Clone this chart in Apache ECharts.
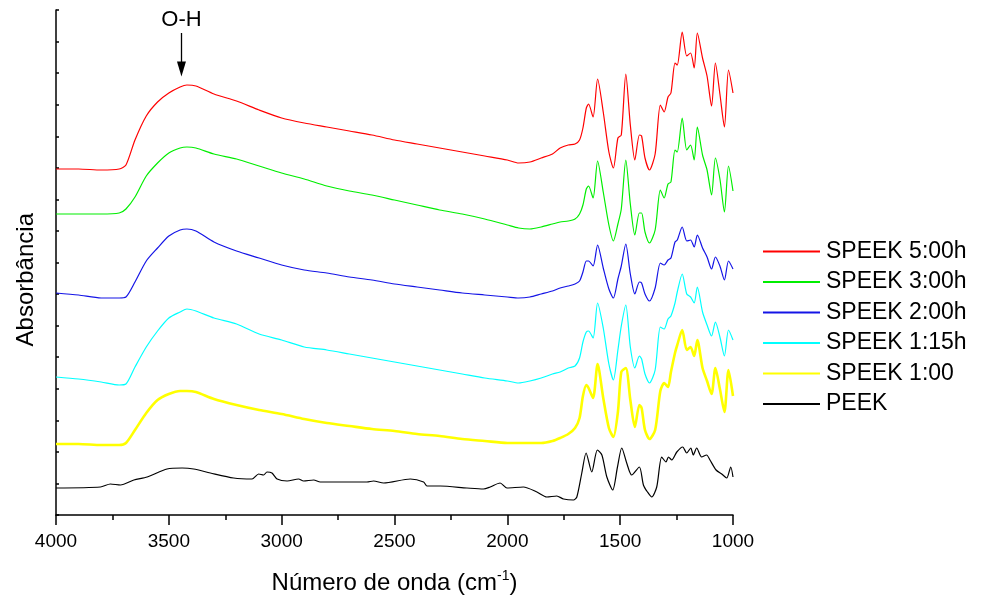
<!DOCTYPE html>
<html>
<head>
<meta charset="utf-8">
<script src="https://cdn.jsdelivr.net/npm/echarts@6/dist/echarts.min.js"></script>
<style>
  html, body { margin: 0; padding: 0; background: #fff; }
  #chart { width: 984px; height: 603px; }
</style>
</head>
<body>
<div id="chart"></div>
<script>
// wavenumbers (cm-1) shared by the SPEEK spectra
const wnSpeek = [4000,3900,3800,3720,3690,3650,3600,3550,3500,3450,3420,3380,3300,3200,3100,3000,2900,2800,2700,2600,2500,2400,2300,2200,2100,2000,1950,1900,1850,1800,1766,1730,1700,1680,1665,1650,1640,1620,1600,1575,1550,1530,1510,1495,1475,1455,1435,1415,1405,1390,1370,1345,1322,1305,1288,1275,1257,1247,1225,1205,1188,1172,1158,1135,1115,1095,1078,1058,1038,1020,1000];

// absorbance (arbitrary units, stacked offsets as in the figure)
const speek500 = [346,346,345,346,350,375,399,413,422,428,430,429,421,414,405,397,392,388,384,380,375,371,367,363,359,355,352,353,357,361,367,370,371,375,387,407,411,398,436,403,363,347,377,380,441,390,355,380,379,357,345,361,410,403,418,422,452,450,483,459,462,447,482,457,439,409,452,421,388,445,422];
const speek300 = [301,301,301,302,306,318,339,352,362,367,368,367,361,356,349,342,336,329,324,320,315,310,305,301,296,290,287,286,288,291,293,294,296,301,310,326,329,317,354,323,290,274,291,306,355,311,280,302,302,283,272,285,325,317,331,333,365,363,397,365,370,355,388,360,345,320,357,336,303,349,324];
const speek200 = [222,220,217,217,218,233,254,267,279,285,286,284,273,264,257,250,245,242,238,235,231,228,225,222,220,218,217,218,221,224,227,229,231,234,243,254,254,249,270,247,226,217,236,249,271,241,221,233,232,221,214,227,252,250,255,257,273,275,288,274,275,268,280,267,258,246,258,249,235,254,246];
const speek115 = [138,136,133,130,131,148,168,184,197,203,206,204,197,191,181,175,168,165,161,157,153,149,145,141,137,134,132,134,137,141,143,147,149,157,173,183,184,177,212,187,151,135,165,189,210,168,147,159,156,141,132,145,188,186,196,199,212,223,241,221,218,212,228,203,190,179,193,178,159,185,175];
const speek100 = [71,71,70,70,72,85,102,115,121,124,124,123,116,110,105,101,96,92,89,86,84,81,79,76,74,72,72,72,72,74,77,81,87,97,119,130,127,117,151,117,87,78,103,143,147,115,88,110,107,85,76,85,124,132,128,143,162,170,185,165,168,159,175,147,134,121,147,126,103,145,119];

// PEEK has its own sampling
const wnPeek = [4000,3803,3759,3714,3655,3596,3508,3441,3390,3316,3213,3131,3102,3080,3065,3043,3020,2976,2925,2903,2858,2829,2622,2593,2548,2430,2371,2356,2297,2179,2106,2076,2032,2002,1929,1869,1825,1781,1751,1707,1692,1670,1651,1626,1601,1581,1559,1533,1512,1493,1471,1449,1415,1397,1379,1360,1338,1316,1297,1286,1271,1249,1223,1205,1187,1176,1161,1139,1117,1102,1075,1050,1028,1010,1000];
const peek = [27,28,31,30,35,38,46,47,46,42,37,36,41,40,43,42,36,34,36,34,35,33,33,34,32,36,33,29,29,27,26,28,32,27,28,23,18,19,16,15,18,42,62,43,65,60,38,25,48,67,52,40,48,30,23,18,28,58,53,58,55,63,68,62,67,60,67,58,60,55,45,41,37,48,38];

const seriesNames = ['SPEEK 5:00h','SPEEK 3:00h','SPEEK 2:00h','SPEEK 1:15h','SPEEK 1:00','PEEK'];
const seriesColors = ['#ff0000','#00ee00','#1414e6','#00ffff','#ffff00','#000000'];

// O-H band marker
const ohWn = 3444;
const ohText = 'O-H';

const font = 'Liberation Sans, Arial, sans-serif';

function pairs(xs, ys) {
  return xs.map(function (x, i) { return [x, ys[i]]; });
}

const chart = echarts.init(document.getElementById('chart'));

const allData = [
  pairs(wnSpeek, speek500),
  pairs(wnSpeek, speek300),
  pairs(wnSpeek, speek200),
  pairs(wnSpeek, speek115),
  pairs(wnSpeek, speek100),
  pairs(wnPeek, peek)
];

const series = allData.map(function (d, i) {
  const s = {
    name: seriesNames[i],
    type: 'line',
    data: d,
    showSymbol: false,
    smooth: 0.25,
    lineStyle: { color: seriesColors[i], width: i === 4 ? 2.6 : 1.2 },
    itemStyle: { color: seriesColors[i] },
    z: 10 - i
  };
  if (i === 0) {
    s.markLine = {
      silent: true,
      symbol: ['none', 'triangle'],
      symbolSize: [9, 15],
      lineStyle: { color: '#000', width: 1.3, type: 'solid' },
      label: { show: false },
      data: [[{ coord: [ohWn, 482] }, { coord: [ohWn, 446] }]]
    };
    s.markPoint = {
      silent: true,
      symbol: 'circle',
      symbolSize: 0,
      label: {
        show: true, position: 'inside', formatter: ohText,
        color: '#000', fontSize: 22, fontFamily: font
      },
      data: [{ coord: [ohWn, 495] }]
    };
  }
  return s;
});

const option = {
  backgroundColor: '#fff',
  animation: false,
  textStyle: { fontFamily: font },
  grid: { left: 56, right: 251, top: 10, bottom: 88, containLabel: false, outerBoundsMode: 'none' },
  legend: {
    orient: 'vertical',
    left: 763,
    top: 240,
    padding: 0,
    icon: 'rect',
    itemWidth: 57,
    itemHeight: 2,
    itemGap: 7.5,
    data: seriesNames,
    textStyle: { fontSize: 23, color: '#000', fontFamily: font, lineHeight: 23, padding: [0, 0, 0, 1] }
  },
  xAxis: {
    type: 'value',
    inverse: true,
    min: 1000,
    max: 4000,
    interval: 500,
    name: 'Número de onda (cm{sup|-1})',
    nameLocation: 'middle',
    nameGap: 54,
    nameTextStyle: {
      fontSize: 24, color: '#000', fontFamily: font,
      rich: { sup: { fontSize: 14, color: '#000', fontFamily: font, padding: [0, 0, 15, 0] } }
    },
    axisLine: { lineStyle: { color: '#000', width: 1.5 } },
    axisTick: { length: 10, lineStyle: { color: '#000', width: 1.5 } },
    minorTick: { show: true, splitNumber: 2, length: 5, lineStyle: { color: '#000', width: 1.5 } },
    axisLabel: {
      fontSize: 19, color: '#000', margin: 17, fontFamily: font,
      formatter: function (v) { return String(v); }
    },
    splitLine: { show: false }
  },
  yAxis: {
    type: 'value',
    min: 0,
    max: 505,
    interval: 31.5625,
    axisLine: { show: true, lineStyle: { color: '#000', width: 1.5 } },
    axisTick: { show: true, inside: true, length: 3, lineStyle: { color: '#000', width: 1.5 } },
    axisLabel: { show: false },
    splitLine: { show: false }
  },
  graphic: [{
    type: 'text',
    left: 14,
    top: 213,
    rotation: Math.PI / 2,
    style: { text: 'Absorbância', fontSize: 24, fill: '#000', fontFamily: font }
  }],
  series: series
};

chart.setOption(option);
</script>
</body>
</html>
